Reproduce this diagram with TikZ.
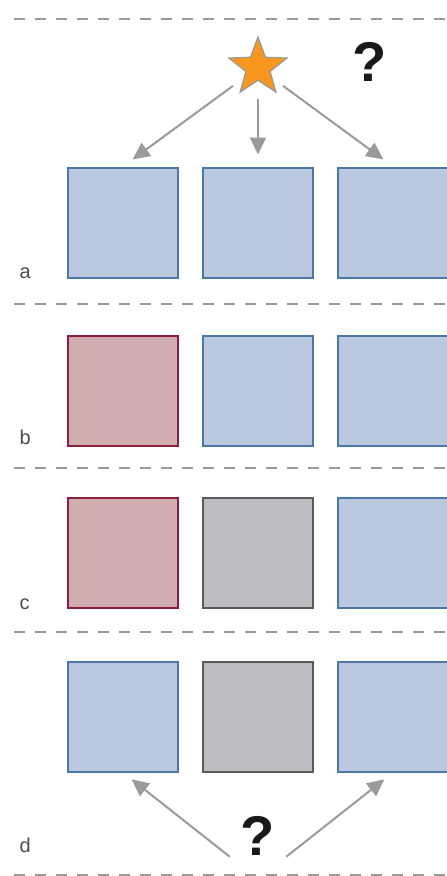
\documentclass[tikz,border=0pt]{standalone}
\usepackage{fontspec}
\setmainfont{Liberation Sans}
\usetikzlibrary{shapes.geometric,arrows.meta}

\definecolor{bluefill}{HTML}{BCC8DF}
\definecolor{blueline}{HTML}{4A79A8}
\definecolor{redfill}{HTML}{D2ADB0}
\definecolor{redline}{HTML}{8C1D40}
\definecolor{greyfill}{HTML}{BCBDC0}
\definecolor{greyline}{HTML}{58595B}
\definecolor{arrowgrey}{HTML}{999A9C}
\definecolor{stargold}{HTML}{F7971F}

\begin{document}
\begin{tikzpicture}[x=1pt, y=-1pt,
	cell/.style={rectangle, minimum size=110pt, line width=2pt, inner sep=0pt},
	bluecell/.style={cell, fill=bluefill, draw=blueline},
	redcell/.style={cell, fill=redfill, draw=redline},
	greycell/.style={cell, fill=greyfill, draw=greyline},
	rowlabel/.style={font=\fontsize{20}{20}\selectfont, text=black!70, anchor=base west},
	query/.style={font=\fontsize{56}{56}\selectfont\bfseries, text=black!90},
	sep/.style={arrowgrey, line width=2pt, dash pattern=on 11pt off 10pt},
	link/.style={arrowgrey, line width=2pt, -{Triangle[length=17pt,width=16pt]}}]
		\useasboundingbox (0,0) rectangle (447,876);
		\clip (0,0) rectangle (447,876);
		% separators
		\draw[sep] (14,19) -- (447,19);
		\draw[sep] (14,304) -- (447,304);
		\draw[sep] (14,468) -- (447,468);
		\draw[sep] (14,632) -- (447,632);
		\draw[sep] (14,875) -- (447,875);
		% row a
		\node[bluecell] (a1) at (123,222.5){};
		\node[bluecell] (a2) at (258,222.5){};
		\node[bluecell] (a3) at (393,222.5){};
		\node[rowlabel] (la) at (16,278){a};
		% row b
		\node[redcell] (b1) at (123,390.5){};
		\node[bluecell] (b2) at (258,390.5){};
		\node[bluecell] (b3) at (393,390.5){};
		\node[rowlabel] (lb) at (16,444){b};
		% row c
		\node[redcell] (c1) at (123,552.5){};
		\node[greycell] (c2) at (258,552.5){};
		\node[bluecell] (c3) at (393,552.5){};
		\node[rowlabel] (lc) at (16,609){c};
		% row d
		\node[bluecell] (d1) at (123,716.5){};
		\node[greycell] (d2) at (258,716.5){};
		\node[bluecell] (d3) at (393,716.5){};
		\node[rowlabel] (ld) at (16,852){d};
		% star and questions
		\node[star, star points=5, star point ratio=2.4, minimum size=61pt, inner sep=0pt,
			fill=stargold, draw=arrowgrey, line width=1.2pt] (src) at (258,67.5){};
		\node[query] (q1) at (370,62){?};
		\node[query] (q2) at (258,836){?};
		\coordinate (bot) at (258,879);
		\draw[link, shorten <=31pt, shorten >=12pt] (src.center) -- (a1.north);
		\draw[link, shorten <=31pt, shorten >=12pt] (src.center) -- (a2.north);
		\draw[link, shorten <=31pt, shorten >=12pt] (src.center) -- (a3.north);
		\draw[link, shorten <=36pt, shorten >=11pt] (bot) -- (d1.south);
		\draw[link, shorten <=36pt, shorten >=11pt] (bot) -- (d3.south);
\end{tikzpicture}
\end{document}
